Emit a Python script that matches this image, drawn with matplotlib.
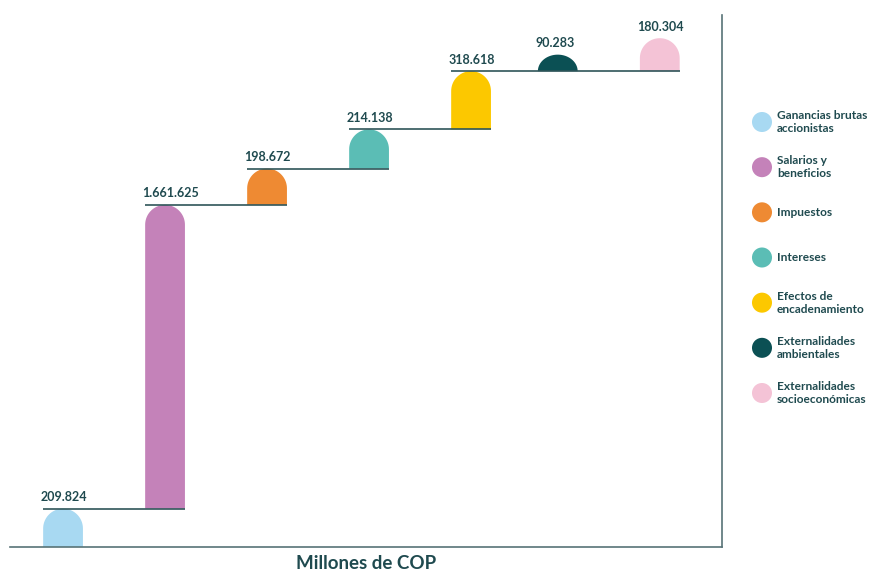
import numpy as np
import matplotlib.pyplot as plt
from matplotlib.patches import Polygon

plt.rcParams['font.family'] = ['Lato', 'DejaVu Sans']

categorias = ["Ganancias brutas\naccionistas", "Salarios y\nbeneficios", "Impuestos",
              "Intereses", "Efectos de\nencadenamiento", "Externalidades\nambientales",
              "Externalidades\nsocioeconómicas"]
valores = [209824, 1661625, 198672, 214138, 318618, 90283, 180304]
etiquetas = ["209.824", "1.661.625", "198.672", "214.138", "318.618", "90.283", "180.304"]
colores = ["#a8d9f2", "#c482b9", "#ee8a33", "#5bbdb5", "#fcc800", "#0b5054", "#f4c3d6"]

texto = "#1f4a4f"
linea = "#2f5559"

# las cinco primeras se apilan; las dos externalidades parten del mismo nivel
acum = np.cumsum(valores[:5])
bases = np.concatenate([[0], acum[:4], [acum[4], acum[4]]])
tops = bases + np.array(valores)

fig = plt.figure(figsize=(8.71, 5.75), dpi=100)
ax = fig.add_axes([10/871, 28/575, 712/871, 532/575])
x = np.arange(len(valores), dtype=float)
x[5:] -= 0.15  # las externalidades van un poco mas juntas
ancho = 0.39
ax.set_xlim(-0.52, 6.46)
ax.set_ylim(0, 2.91e6)

# escala de pixeles para que la punta sea semicircular
px_x = 712 / (6.46 + 0.52)
px_y = 532 / 2.91e6


def barra(x0, base, h, color):
    rx = ancho / 2
    ry = min(rx * px_x / px_y, h)
    yc = base + h - ry
    t = np.linspace(np.pi, 0, 40)
    pts = [(x0 - rx, base), (x0 - rx, yc)]
    pts += list(zip(x0 + rx * np.cos(t), yc + ry * np.sin(t)))
    pts += [(x0 + rx, yc), (x0 + rx, base)]
    ax.add_patch(Polygon(pts, closed=True, facecolor=color, edgecolor='none', zorder=2))


for i in range(len(valores)):
    barra(x[i], bases[i], valores[i], colores[i])
    sobre = np.where(np.isclose(bases, tops[i]))[0]
    if sobre.size:
        ax.plot([x[i] - ancho/2, x[sobre.max()] + ancho/2], [tops[i], tops[i]],
                color=linea, lw=1.2, zorder=3, solid_capstyle='butt')
    ax.annotate(etiquetas[i], (x[i] - ancho/2, tops[i]), xytext=(-2, 4),
                textcoords='offset points', ha='left', va='bottom',
                fontsize=9, fontweight='bold', color=texto)

for s in ['top', 'left']:
    ax.spines[s].set_visible(False)
for s in ['bottom', 'right']:
    ax.spines[s].set_color('#587377')
    ax.spines[s].set_linewidth(1.2)
ax.set_xticks([])
ax.set_yticks([])
ax.set_xlabel("Millones de COP", fontsize=13.5, fontweight='bold', color=texto, labelpad=6)

# leyenda a mano, en pixeles de la figura
lax = fig.add_axes([0, 0, 1, 1])
lax.set_xlim(0, 871)
lax.set_ylim(575, 0)
lax.axis('off')
ys = np.linspace(122, 393, len(categorias))
for yc, c, lab in zip(ys, colores, categorias):
    lax.scatter(762, yc, s=20**2 * 0.52, color=c, edgecolors='none')
    lax.text(777, yc, lab, va='center', ha='left', fontsize=8.6, fontweight='bold',
             color=texto, linespacing=1.25)

fig.savefig("out.png", dpi=100)
